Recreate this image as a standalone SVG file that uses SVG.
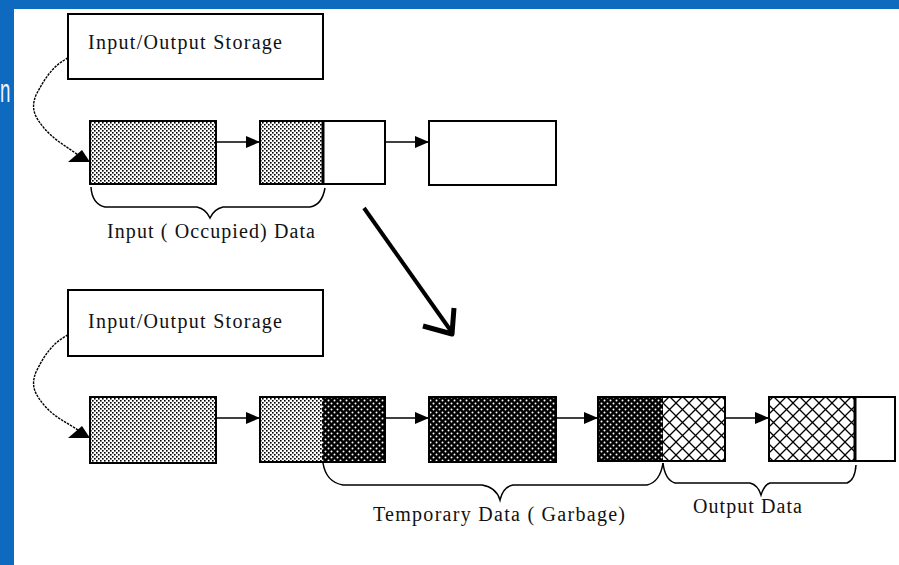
<svg xmlns="http://www.w3.org/2000/svg" width="899" height="565" viewBox="0 0 899 565">
<style>
.box{stroke:#000;stroke-width:2}
.div{stroke:#000;stroke-width:3}
.lbl{font-family:"Liberation Serif","Times New Roman",serif;font-size:20px;fill:#111}
.conn{fill:none;stroke:#000;stroke-width:1.6}
.curve{fill:none;stroke:#000;stroke-width:1.4;stroke-dasharray:2.5 1}
.brace{fill:none;stroke:#000;stroke-width:1.5}
</style>
<defs>
<pattern id="light" width="4" height="4" patternUnits="userSpaceOnUse">
<rect width="4" height="4" fill="#fff"/>
<rect x="0" y="0" width="1.6" height="1.6" fill="#000"/>
<rect x="2" y="2" width="1.6" height="1.6" fill="#000"/>
</pattern>
<pattern id="dark" width="6" height="6" patternUnits="userSpaceOnUse">
<rect width="6" height="6" fill="#000"/>
<circle cx="1.5" cy="1.5" r="1" fill="#fff"/>
<circle cx="4.5" cy="4.5" r="1" fill="#fff"/>
</pattern>
<pattern id="hatch" width="13" height="13" patternUnits="userSpaceOnUse">
<rect width="13" height="13" fill="#fff"/>
<path d="M0,0 L13,13 M13,0 L0,13" stroke="#000" stroke-width="1.3"/>
</pattern>
<marker id="ah" markerWidth="14" markerHeight="12" refX="14" refY="6" orient="auto" markerUnits="userSpaceOnUse">
<path d="M0,0 L14,6 L0,12 Z" fill="#000"/>
</marker>
</defs>
<rect width="899" height="565" fill="#0d6abf"/>
<rect x="14" y="9" width="885" height="556" fill="#fff"/>
<text x="0" y="102" transform="scale(0.55,1)" style="font-family:'Liberation Sans',Arial,sans-serif;font-size:34px;fill:#eef4ff">n</text>

<!-- Top state -->
<g id="io-top">
<rect class="box" x="68" y="14" width="255" height="65" fill="#fff"/>
<text class="lbl" x="88" y="49" textLength="194" lengthAdjust="spacing">Input/Output Storage</text>
</g>
<g id="t1"><rect class="box" x="90" y="121" width="126" height="63" fill="url(#light)"/></g>
<g id="t2">
<rect class="box" x="260" y="121" width="125" height="63" fill="#fff"/>
<rect x="261" y="122" width="62" height="61" fill="url(#light)"/>
<line class="div" x1="323" y1="121" x2="323" y2="184"/>
</g>
<g id="t3"><rect class="box" x="429" y="121" width="127" height="64" fill="#fff"/></g>
<g id="label-top">
<path class="brace" d="M91,187 Q92,204 105,207 L197,207 Q206,209 210,218 Q214,209 223,207 L310,207 Q322,205 325,188"/>
<text class="lbl" x="107" y="238" textLength="208" lengthAdjust="spacing">Input ( Occupied) Data</text>
</g>

<!-- Bottom state -->
<g id="io-bot">
<rect class="box" x="68" y="290" width="255" height="66" fill="#fff"/>
<text class="lbl" x="88" y="328" textLength="194" lengthAdjust="spacing">Input/Output Storage</text>
</g>
<g id="b1"><rect class="box" x="90" y="397" width="126" height="66" fill="url(#light)"/></g>
<g id="b2">
<rect class="box" x="260" y="397" width="125" height="65" fill="url(#dark)"/>
<rect x="261" y="398" width="61" height="63" fill="url(#light)"/>
</g>
<g id="b3"><rect class="box" x="429" y="397" width="127" height="65" fill="url(#dark)"/></g>
<g id="b4">
<rect class="box" x="598" y="397" width="127" height="64" fill="url(#hatch)"/>
<rect x="599" y="398" width="64" height="62" fill="url(#dark)"/>
</g>
<g id="b5">
<rect class="box" x="769" y="397" width="126" height="64" fill="#fff"/>
<rect x="770" y="398" width="85" height="62" fill="url(#hatch)"/>
<line class="div" x1="855" y1="397" x2="855" y2="461"/>
</g>
<g id="label-temp">
<path class="brace" d="M323,463 Q326,482 343,485 L482,485 Q496,487 500,500 Q503,487 513,485 L647,485 Q660,482 663,463"/>
<text class="lbl" x="373" y="521" textLength="252" lengthAdjust="spacing">Temporary Data ( Garbage)</text>
</g>
<g id="label-out">
<path class="brace" d="M663,463 Q665,480 675,483 L750,483 Q758,485 761,495 Q764,485 770,483 L847,483 Q855,480 856,465"/>
<text class="lbl" x="693" y="513" textLength="109" lengthAdjust="spacing">Output Data</text>
</g>

<g id="connectors">
<line class="conn" x1="216" y1="142" x2="260" y2="142" marker-end="url(#ah)"/>
<line class="conn" x1="385" y1="142" x2="429" y2="142" marker-end="url(#ah)"/>
<line class="conn" x1="216" y1="418" x2="260" y2="418" marker-end="url(#ah)"/>
<line class="conn" x1="385" y1="418" x2="429" y2="418" marker-end="url(#ah)"/>
<line class="conn" x1="556" y1="418" x2="598" y2="418" marker-end="url(#ah)"/>
<line class="conn" x1="725" y1="418" x2="769" y2="418" marker-end="url(#ah)"/>
<path class="curve" d="M68,58 C52,66 44,80 36,95 C30,110 36,118 44,128 C54,140 66,146 78,155"/>
<polygon points="68,162 82,150 90,162" fill="#000"/>
<path class="curve" d="M68,335 C52,343 44,356 36,372 C30,387 36,395 44,405 C54,417 66,422 78,430"/>
<polygon points="68,438 82,426 90,438" fill="#000"/>
<line x1="364" y1="208" x2="451" y2="331" stroke="#000" stroke-width="4"/>
<polyline points="423,326 452,334 454,308" fill="none" stroke="#000" stroke-width="5" stroke-linejoin="round"/>
</g>
</svg>
